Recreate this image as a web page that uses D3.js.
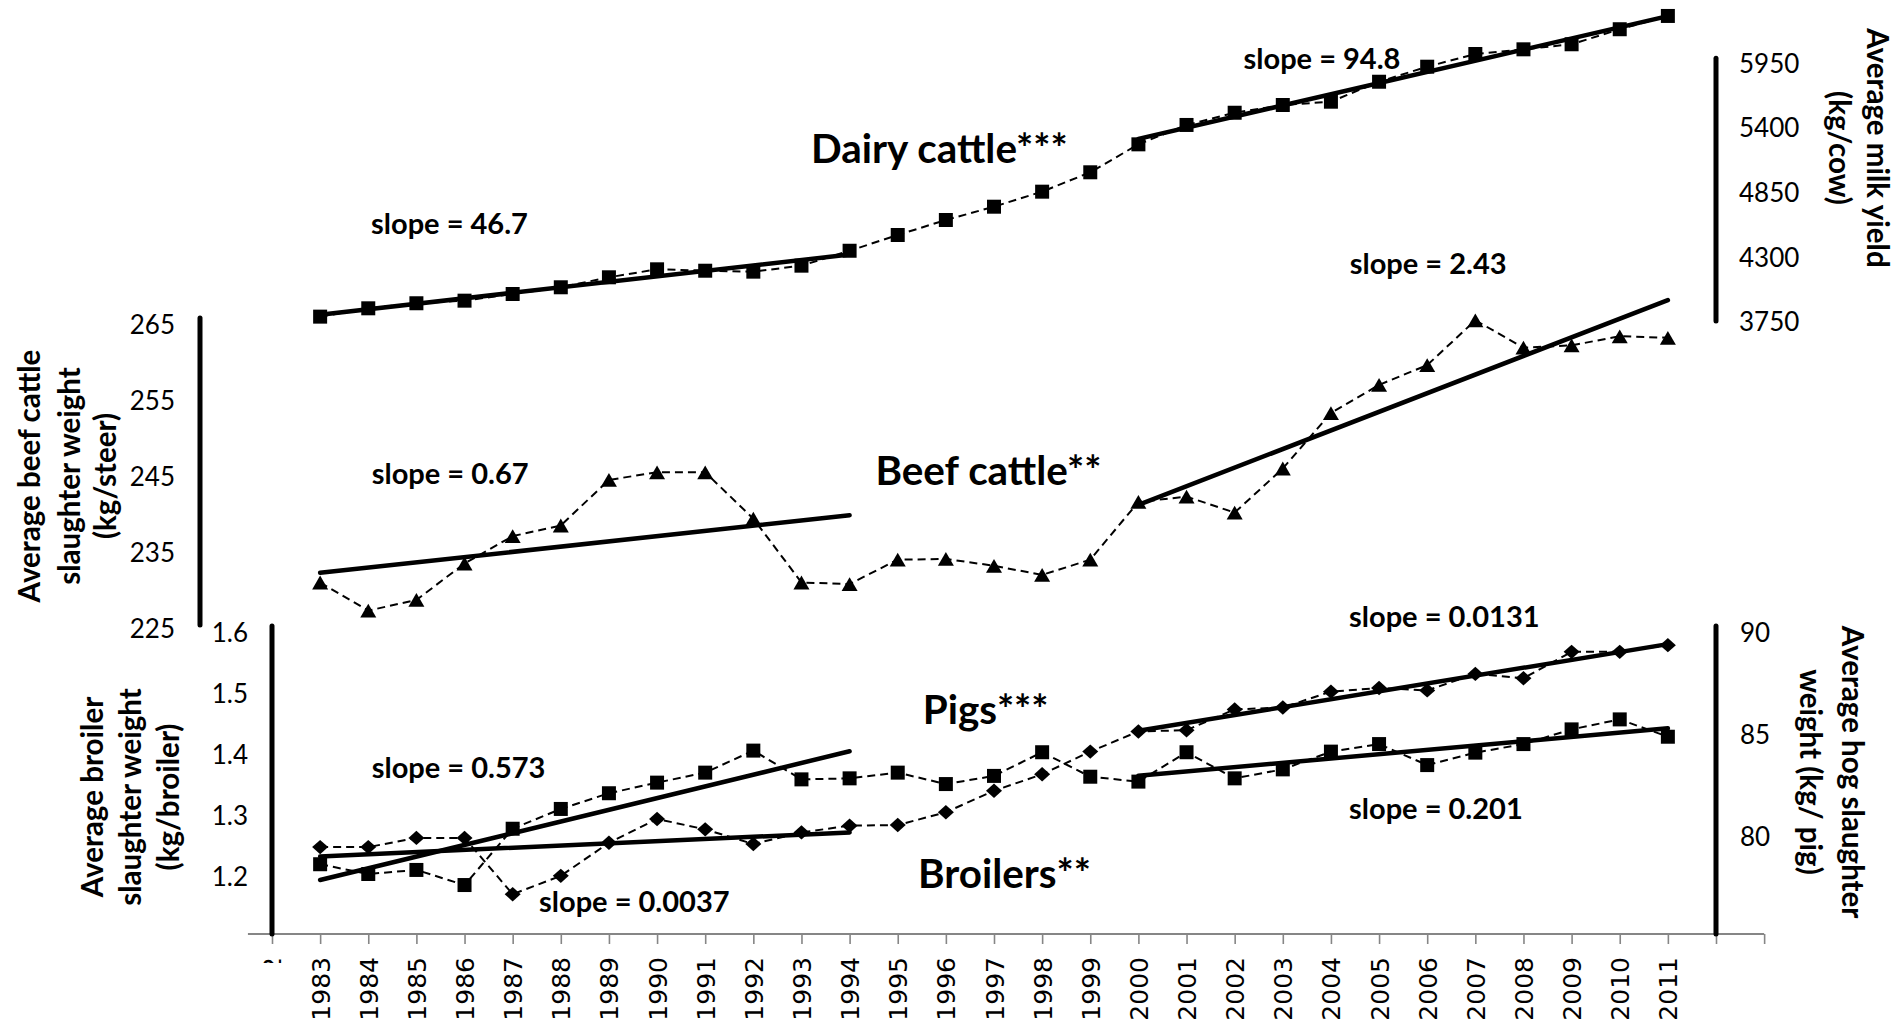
<!DOCTYPE html>
<html><head><meta charset="utf-8">
<script src="https://cdn.jsdelivr.net/npm/d3@7"></script>
<style>body{margin:0;background:#fff}svg{display:block}</style>
</head><body>
<svg id="c" width="1897" height="1021"></svg>
<script>
// ---------------- DATA ----------------
const years = [1983,1984,1985,1986,1987,1988,1989,1990,1991,1992,1993,1994,1995,1996,1997,1998,1999,2000,2001,2002,2003,2004,2005,2006,2007,2008,2009,2010,2011];
const tickYears = [1982,1983,1984,1985,1986,1987,1988,1989,1990,1991,1992,1993,1994,1995,1996,1997,1998,1999,2000,2001,2002,2003,2004,2005,2006,2007,2008,2009,2010,2011,2012,2013];
const milkYield = [3759,3830,3873,3895,3952,4009,4094,4162,4150,4142,4193,4320,4454,4582,4695,4823,4988,5226,5391,5495,5561,5589,5759,5887,5995,6035,6078,6206,6319];
const beefWeight = [230.5,226.8,228.2,233.0,236.6,238.0,244.0,245.0,245.0,238.9,230.5,230.3,233.5,233.6,232.7,231.5,233.5,241.1,241.8,239.7,245.5,252.8,256.5,259.1,265.0,261.4,261.7,262.9,262.7];
const hogWeight = [78.42,77.94,78.14,77.40,80.16,81.13,81.90,82.42,82.91,83.99,82.58,82.63,82.91,82.35,82.75,83.91,82.71,82.47,83.91,82.63,83.07,83.94,84.31,83.28,83.89,84.31,85.03,85.52,84.67];
const broilerWeight = [1.242,1.242,1.257,1.257,1.165,1.195,1.249,1.288,1.271,1.247,1.266,1.277,1.278,1.299,1.334,1.361,1.398,1.431,1.433,1.467,1.470,1.496,1.502,1.498,1.525,1.518,1.561,1.561,1.572];
const trendPeriods = [[1983,1994],[2000,2011]];
const milkTicks = [3750,4300,4850,5400,5950];
const beefTicks = [225,235,245,255,265];
const broilerTicks = [1.2,1.3,1.4,1.5,1.6];
const hogTicks = [80,85,90];
const slopeTexts = ["46.7","94.8","0.67","2.43","0.573","0.0037","0.201","0.0131"];
const seriesNames = ["Dairy cattle***","Beef cattle**","Pigs***","Broilers**"];

// ---------------- SETUP ----------------
const svg = d3.select("#c");
svg.append("rect").attr("width",1897).attr("height",1021).attr("fill","#fff");

const x = d3.scaleLinear().domain([1982, 2012]).range([272, 1716]);
const yMilk = d3.scaleLinear().domain([3750, 5950]).range([317.7, 59.3]);
const yBeef = d3.scaleLinear().domain([225, 265]).range([624.3, 320.3]);
const yBroiler = d3.scaleLinear().domain([1.1, 1.6]).range([934, 628]);
const yHog = d3.scaleLinear().domain([75, 90]).range([934, 628]);

const AX = "#868686";
const LBL = "Lato, 'Open Sans', sans-serif";

// ---------------- X AXIS ----------------
const gx = svg.append("g").attr("transform","translate(0,934)");
gx.append("line").attr("x1", x(1981.5)).attr("x2", x(2013)).attr("y1",0).attr("y2",0)
  .attr("stroke", AX).attr("stroke-width", 2);
gx.call(d3.axisBottom(x).tickValues(tickYears).tickSize(10)
    .tickFormat(d => years.includes(d) ? String(d) : ""));
gx.select(".domain").remove();
gx.selectAll(".tick line").attr("stroke", AX).attr("stroke-width", 1.6);
gx.selectAll(".tick text")
  .attr("font-family","'DejaVu Sans', sans-serif").attr("font-size", 25).attr("fill","#000")
  .attr("transform","rotate(-90)").attr("x",-23).attr("y",0).attr("dy","0.36em")
  .style("text-anchor","end");
// clipped first label (1982)
svg.append("clipPath").attr("id","clip82").append("rect")
  .attr("x", x(1982)-20).attr("y", 945).attr("width", 40).attr("height", 18);
svg.append("g").attr("clip-path","url(#clip82)")
  .append("text").attr("transform",`translate(${x(1982)},957) rotate(-90)`)
  .attr("dy","0.36em").attr("text-anchor","end")
  .attr("font-family","'DejaVu Sans', sans-serif").attr("font-size",25).text("1982");

// ---------------- Y AXES (labels only) ----------------
function yAxisLabels(g, scale, ticks, fmt, anchor) {
  g.selectAll("text").data(ticks).join("text")
    .attr("x", 0).attr("y", d => scale(d)).attr("dy","0.52em")
    .attr("text-anchor", anchor)
    .attr("font-family", LBL).attr("font-size", 26).attr("fill","#000")
    .text(fmt);
}
yAxisLabels(svg.append("g").attr("transform","translate(1739,0)"), yMilk, milkTicks, d3.format("d"), "start");
yAxisLabels(svg.append("g").attr("transform","translate(175,0)"), yBeef, beefTicks, d3.format("d"), "end");
yAxisLabels(svg.append("g").attr("transform","translate(248,0)"), yBroiler, broilerTicks, d3.format(".1f"), "end");
yAxisLabels(svg.append("g").attr("transform","translate(1740,0)"), yHog, hogTicks, d3.format("d"), "start");

// bracket bars beside each value axis
const brackets = [
  [x(2012), yMilk(5950)-1, yMilk(3750)+3.3],
  [200, yBeef(265)-2.3, yBeef(225)+0.7],
  [x(1982), yBroiler(1.6)-2, yBroiler(1.1)],
  [x(2012), yHog(90)-2, yHog(75)]
];
svg.selectAll(".br").data(brackets).join("line").attr("class","br")
  .attr("x1", d=>d[0]).attr("x2", d=>d[0]).attr("y1", d=>d[1]).attr("y2", d=>d[2])
  .attr("stroke","#000").attr("stroke-width",5).attr("stroke-linecap","round");

// ---------------- SERIES ----------------
const triSym = {draw(ctx,size){const w=Math.sqrt(size),h=w*0.86;ctx.moveTo(0,-h/2);ctx.lineTo(w/2,h/2);ctx.lineTo(-w/2,h/2);ctx.closePath();}};
const diaSym = {draw(ctx,size){const w=Math.sqrt(size),h=w*0.9;ctx.moveTo(0,-h/2);ctx.lineTo(w/2,0);ctx.lineTo(0,h/2);ctx.lineTo(-w/2,0);ctx.closePath();}};
const series = [
  {vals: milkYield, y: yMilk, sym: d3.symbolSquare, size: 196},
  {vals: beefWeight, y: yBeef, sym: triSym, size: 256},
  {vals: hogWeight, y: yHog, sym: d3.symbolSquare, size: 196},
  {vals: broilerWeight, y: yBroiler, sym: diaSym, size: 256}
];

function fit(xs, ys) {
  const mx = d3.mean(xs), my = d3.mean(ys);
  let sxy = 0, sxx = 0;
  xs.forEach((v,i) => { sxy += (v-mx)*(ys[i]-my); sxx += (v-mx)*(v-mx); });
  const b = sxy/sxx; return {b, a: my - b*mx};
}

const gLines = svg.append("g"), gTrend = svg.append("g"), gMarks = svg.append("g");
series.forEach(s => {
  const pts = years.map((yr,i) => ({yr, v: s.vals[i]}));
  gLines.append("path").datum(pts)
    .attr("d", d3.line().x(d=>x(d.yr)).y(d=>s.y(d.v)))
    .attr("fill","none").attr("stroke","#000").attr("stroke-width",2).attr("stroke-dasharray","8,5");
  trendPeriods.forEach(([p0,p1]) => {
    const sub = pts.filter(d => d.yr >= p0 && d.yr <= p1);
    const f = fit(sub.map(d=>d.yr), sub.map(d=>d.v));
    gTrend.append("line")
      .attr("x1", x(p0)).attr("y1", s.y(f.a + f.b*p0))
      .attr("x2", x(p1)).attr("y2", s.y(f.a + f.b*p1))
      .attr("stroke","#000").attr("stroke-width",4.5).attr("stroke-linecap","round");
  });
  gMarks.selectAll(null).data(pts).join("path")
    .attr("transform", d => `translate(${x(d.yr)},${s.y(d.v)})`)
    .attr("d", d3.symbol(s.sym, s.size)).attr("fill","#000");
});

// ---------------- TEXT ----------------
function measure(txt, fs, weight) {
  const t = svg.append("text").attr("font-family", LBL).attr("font-weight", weight).attr("font-size", fs).text(txt);
  const w = t.node().getComputedTextLength(); t.remove(); return w;
}
// slope labels
const slopeFs = 30 * 157 / measure("slope = 0.67", 30, 700);
const slopePos = [[371,234],[1243.5,68.5],[371.7,483.5],[1349.7,274],[371.7,777.5],[539,911.5],[1349,818.5],[1349,626.5]];
svg.append("g").selectAll("text").data(slopeTexts).join("text")
  .attr("x",(d,i)=>slopePos[i][0]).attr("y",(d,i)=>slopePos[i][1])
  .attr("font-family",LBL).attr("font-weight",700).attr("font-size",slopeFs)
  .text(d => "slope = " + d);

// series names
const nameFs = 38 * 226 / measure("Beef cattle**", 38, 700);
const namePos = [[811,163],[875.4,485],[922.7,724],[918,888]];
svg.append("g").selectAll("text").data(seriesNames).join("text")
  .attr("x",(d,i)=>namePos[i][0]).attr("y",(d,i)=>namePos[i][1])
  .attr("font-family",LBL).attr("font-weight",700).attr("font-size",nameFs)
  .text(d=>d);

// axis titles
const titleFs = 28 * 253 / measure("Average beef cattle", 28, 700);
const titles = [
  {lines:["Average milk yield","(kg/cow)"], xs:[1875,1837], cy:148, rot:90},
  {lines:["Average hog slaughter","weight (kg/ pig)"], xs:[1850,1808], cy:772, rot:90},
  {lines:["Average beef cattle","slaughter weight","(kg/steer)"], xs:[32,72,108], cy:476, rot:-90},
  {lines:["Average broiler","slaughter weight","(kg/broiler)"], xs:[95,133,171], cy:797, rot:-90}
];
titles.forEach(t => t.lines.forEach((ln,i) => {
  svg.append("text").attr("transform",`translate(${t.xs[i]},${t.cy}) rotate(${t.rot})`)
    .attr("dy","0.28em").attr("text-anchor","middle")
    .attr("font-family",LBL).attr("font-weight",700).attr("font-size",titleFs).text(ln);
}));
</script>
</body></html>
